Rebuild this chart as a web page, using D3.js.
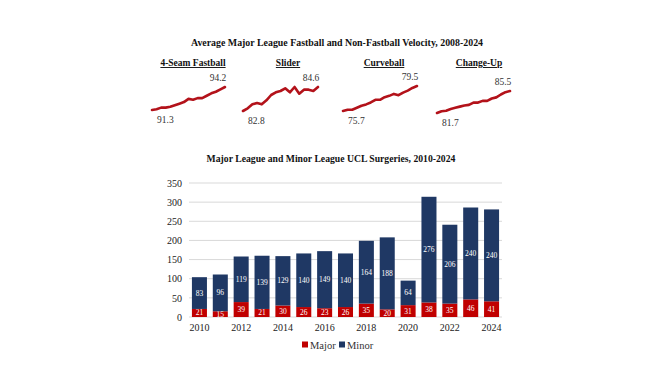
<!DOCTYPE html>
<html><head><meta charset="utf-8">
<script src="https://cdn.jsdelivr.net/npm/d3@7"></script>
<style>body{margin:0;background:#fff}svg{display:block}</style>
</head><body>
<svg id="c" width="658" height="370"></svg>
<script>
// ---- Data ----
const velYears = d3.range(2008, 2025);
const pitchNames = ["4-Seam Fastball", "Slider", "Curveball", "Change-Up"];
const fastball = [91.3,91.4,91.6,91.6,91.7,91.9,92.1,92.3,92.7,92.6,92.8,92.8,93.1,93.4,93.6,93.9,94.2];
const slider   = [82.8,83.0,83.3,83.4,83.3,83.6,84.0,84.2,84.3,84.5,84.2,84.6,84.1,84.4,84.4,84.3,84.6];
const curveball= [75.7,75.9,75.9,76.2,76.5,76.7,77.0,77.4,77.4,77.8,78.0,78.3,78.1,78.5,78.8,79.2,79.5];
const changeup = [81.7,82.0,82.1,82.4,82.6,82.8,83.0,83.1,83.5,83.5,83.8,83.8,84.2,84.4,84.9,85.3,85.5];

const years = d3.range(2010, 2025);
const major = [21,15,39,21,30,26,23,26,35,20,31,38,35,46,41];
const minor = [83,96,119,139,129,140,149,140,164,188,64,276,206,240,240];
const yTicks = [0,50,100,150,200,250,300,350];
const xTickYears = [2010,2012,2014,2016,2018,2020,2022,2024];
const seriesNames = ["Major","Minor"];

const svg = d3.select("#c");
const font = "'Liberation Serif','Times New Roman',serif";
const red = "#c00000", navy = "#1f3864", lineRed = "#b3121a";

// ---- Top title ----
svg.append("text").attr("x", 337).attr("y", 46).attr("text-anchor","middle")
  .attr("font-family", font).attr("font-weight","bold").attr("font-size", 9.9)
  .attr("fill","#111").text("Average Major League Fastball and Non-Fastball Velocity, 2008-2024");

// ---- Sparklines ----
const sparks = [
  {name: pitchNames[0], data: fastball, cx: 193, x0: 152, x1: 225, yTop: 87, yBot: 110},
  {name: pitchNames[1], data: slider,   cx: 288, x0: 243, x1: 318, yTop: 87, yBot: 111},
  {name: pitchNames[2], data: curveball,cx: 384, x0: 343, x1: 417, yTop: 86, yBot: 111},
  {name: pitchNames[3], data: changeup, cx: 479, x0: 437, x1: 510, yTop: 91, yBot: 113}
];
sparks.forEach(s => {
  const g = svg.append("g");
  g.append("text").attr("x", s.cx).attr("y", 66).attr("text-anchor","middle")
    .attr("font-family", font).attr("font-weight","bold").attr("font-size", 9.5)
    .attr("fill","#111").attr("text-decoration","underline").text(s.name);
  const x = d3.scaleLinear().domain([2008, 2024]).range([s.x0, s.x1]);
  const y = d3.scaleLinear().domain([d3.min(s.data), d3.max(s.data)]).range([s.yBot, s.yTop]);
  const line = d3.line().x((d,i)=>x(velYears[i])).y(d=>y(d)).curve(d3.curveLinear);
  g.append("path").datum(s.data).attr("d", line).attr("fill","none")
    .attr("stroke", lineRed).attr("stroke-width", 2.6).attr("stroke-linejoin","round").attr("stroke-linecap","round");
  const first = s.data[0], last = s.data[s.data.length-1];
  g.append("text").attr("x", x(2008)+5).attr("y", y(first)+13)
    .attr("font-family", font).attr("font-size", 9.5).attr("fill","#333").text(first.toFixed(1));
  g.append("text").attr("x", x(2024)-7).attr("y", y(last)-6).attr("text-anchor","middle")
    .attr("font-family", font).attr("font-size", 9.5).attr("fill","#333").text(last.toFixed(1));
});

// ---- Bar chart ----
svg.append("text").attr("x", 331).attr("y", 162).attr("text-anchor","middle")
  .attr("font-family", font).attr("font-weight","bold").attr("font-size", 9.7)
  .attr("fill","#111").text("Major League and Minor League UCL Surgeries, 2010-2024");

const left = 189, right = 502;
const yS = d3.scaleLinear().domain([0, 350]).range([317, 183]);
const xS = d3.scaleBand().domain(years).range([left, right]).paddingInner(0.28).paddingOuter(0.14);

// gridlines
svg.append("g").selectAll("line").data(yTicks).join("line")
  .attr("x1", left).attr("x2", right).attr("y1", d=>yS(d)).attr("y2", d=>yS(d))
  .attr("stroke", "#d9d9d9").attr("stroke-width", 1);

// y axis
const yAxis = svg.append("g").attr("transform", `translate(${left-5},0)`)
  .call(d3.axisLeft(yS).tickValues(yTicks).tickSize(0).tickPadding(2));
yAxis.select(".domain").remove();
yAxis.selectAll("text").attr("font-family", font).attr("font-size", 10).attr("fill","#222");

// x axis
const xAxis = svg.append("g").attr("transform", `translate(0,${yS(0)+3})`)
  .call(d3.axisBottom(xS).tickValues(xTickYears).tickSize(0).tickPadding(4));
xAxis.select(".domain").remove();
xAxis.selectAll("text").attr("font-family", font).attr("font-size", 10).attr("fill","#222");

const rows = years.map((yr,i)=>({year: yr, Major: major[i], Minor: minor[i]}));
const stack = d3.stack().keys(seriesNames)(rows);
const colors = {Major: red, Minor: navy};

stack.forEach(layer => {
  const g = svg.append("g");
  g.selectAll("rect").data(layer).join("rect")
    .attr("x", d=>xS(d.data.year)).attr("width", xS.bandwidth())
    .attr("y", d=>yS(d[1])).attr("height", d=>yS(d[0])-yS(d[1]))
    .attr("fill", colors[layer.key]);
  g.selectAll("text").data(layer).join("text")
    .attr("x", d=>xS(d.data.year)+xS.bandwidth()/2)
    .attr("y", d=>yS((d[0]+d[1])/2)+2.5)
    .attr("text-anchor","middle").attr("font-family", font).attr("font-size", 7.5)
    .attr("fill","#fff").text(d=>d.data[layer.key]);
});

// legend
const leg = svg.append("g").attr("transform","translate(302,345)");
seriesNames.forEach((k,i)=>{
  const gx = i*37;
  leg.append("rect").attr("x", gx).attr("y", -3.5).attr("width", 6).attr("height", 6).attr("fill", colors[k]);
  leg.append("text").attr("x", gx+8).attr("y", 3.5).attr("font-family", font).attr("font-size", 10.5)
    .attr("fill","#333").text(k);
});
</script>
</body></html>
